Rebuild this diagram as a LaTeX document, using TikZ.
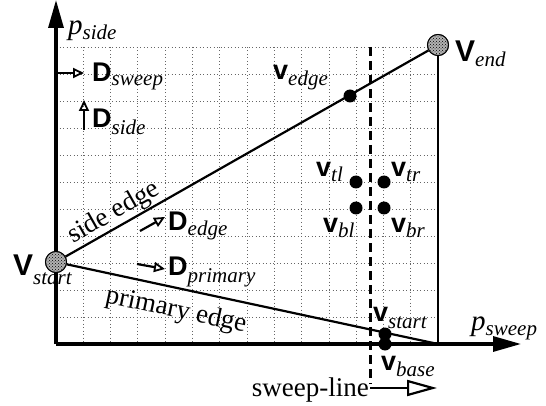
\documentclass[tikz,border=0pt]{standalone}
\usepackage{fontspec}
\setmainfont{Liberation Serif}
\newfontfamily\hvb{Liberation Sans}
\usetikzlibrary{arrows.meta,patterns}
\newcommand\Lab[4]{{\hvb\bfseries\fontsize{#1}{#1}\selectfont #2}\raisebox{-#4}{\fontsize{21}{21}\selectfont\itshape #3}}
\newcommand\Pl[2]{{\fontsize{29}{29}\selectfont\itshape #1\raisebox{-5pt}{\fontsize{21}{21}\selectfont #2}}}
\begin{document}
\begin{tikzpicture}[x=1pt,y=-1pt,
  gridline/.style={black!60,line width=0.8pt,dash pattern=on 1pt off 2.5pt},
  axis/.style={line width=3.2pt,-{Triangle[length=28pt,width=15pt]}},
  edgeline/.style={line width=2.2pt},
  bigdot/.style={circle,draw=black,line width=1pt,fill=gray!60,minimum size=21pt,inner sep=0pt},
  dot/.style={circle,fill=black,minimum size=13pt,inner sep=0pt},
  dirarrow/.style={line width=2.2pt,-{Triangle[open,length=11pt,width=10pt,line width=1.8pt]}},
  lbl/.style={inner sep=0pt,anchor=base west},
  plain/.style={font=\fontsize{27}{27}\selectfont,inner sep=0pt}]
\useasboundingbox (0,0) rectangle (546,406);
% grid
\foreach \k in {1,...,13} \draw[gridline] ({56+27.29*\k},47) -- ({56+27.29*\k},344);
\foreach \k in {1,...,11} \draw[gridline] (56,{344-27*\k}) -- (438,{344-27*\k});
% coordinates
\coordinate (O) at (56,344);
\coordinate (yend) at (56,0);
\coordinate (xend) at (521,344);
\coordinate (pend) at (438,344);
\coordinate (swtop) at (370,47);
\coordinate (swbot) at (370,384);
\coordinate (swa) at (370,388);
\coordinate (swb) at (437,388);
% vertices
\node[bigdot] (vstart) at (56,262) {};
\node[bigdot] (vend) at (438,45) {};
% lines
\draw[line width=1.8pt] (vend) -- (pend);
\draw[edgeline] (vstart) -- (vend);
\draw[edgeline] (vstart) -- (pend);
\draw[line width=3pt,dash pattern=on 9pt off 5pt] (swtop) -- (swbot);
\draw[axis] (O) -- (xend);
\draw[axis] (O) -- (yend);
\node[bigdot] at (vstart) {};
\node[bigdot] at (vend) {};
\fill[pattern=crosshatch dots,pattern color=black] (vstart) circle (9.5pt);
\fill[pattern=crosshatch dots,pattern color=black] (vend) circle (9.5pt);
% dots
\node[dot] (vedge) at (350,96) {};
\node[dot] (vtl) at (356,182) {};
\node[dot] (vtr) at (384,182) {};
\node[dot] (vbl) at (356,208) {};
\node[dot] (vbr) at (384,208) {};
\node[dot] (vbase) at (385,344) {};
\node[dot] (vst2) at (385,334) {};
% direction arrows
\coordinate (ds1) at (57,73);  \coordinate (ds2) at (84,73);
\coordinate (dd1) at (84,130); \coordinate (dd2) at (84,100);
\coordinate (de1) at (140,231); \coordinate (de2) at (165,217);
\coordinate (dp1) at (137,264); \coordinate (dp2) at (165,269);
\draw[dirarrow] (ds1) -- (ds2);
\draw[dirarrow] (dd1) -- (dd2);
\draw[dirarrow] (de1) -- (de2);
\draw[dirarrow] (dp1) -- (dp2);
% sweep-line arrow
\draw[line width=2.4pt,-{Triangle[open,length=30pt,width=16pt,line width=2.2pt]}] (swa) -- (swb);
% labels
\node[lbl] (pside) at (68,35) {\Pl{p}{side}};
\node[lbl] (psweep) at (471,330) {\Pl{p}{sweep}};
\node[lbl] (Dsweep) at (92,82) {\Lab{27}{D}{sweep}{4pt}};
\node[lbl] (Dside) at (92,128) {\Lab{27}{D}{side}{7pt}};
\node[lbl] (Dedge) at (168,230) {\Lab{27}{D}{edge}{5pt}};
\node[lbl] (Dprim) at (168,275) {\Lab{27}{D}{primary}{7pt}};
\node[lbl] (Lend) at (455,62) {\Lab{30}{V}{end}{5pt}};
\node[lbl] (Lstart) at (13,275) {\Lab{30}{V}{start}{9pt}};
\node[lbl] (Ledge) at (273,80) {\Lab{27}{v}{edge}{6pt}};
\node[lbl] (Ltl) at (316,177) {\Lab{27}{v}{tl}{5pt}};
\node[lbl] (Ltr) at (391,177) {\Lab{27}{v}{tr}{5pt}};
\node[lbl] (Lbl) at (323,233) {\Lab{27}{v}{bl}{5pt}};
\node[lbl] (Lbr) at (391,233) {\Lab{27}{v}{br}{5pt}};
\node[lbl] (Lst2) at (373,321) {\Lab{27}{v}{start}{7pt}};
\node[lbl] (Lbase) at (381,370) {\Lab{27}{v}{base}{6pt}};
\node[plain,rotate=29.6] (sidelbl) at (114,213) {side edge};
\node[plain,rotate=-12.1] (primlbl) at (176,311) {primary edge};
\node[plain,anchor=base east] (swlbl) at (369,396) {sweep-line};
\end{tikzpicture}
\end{document}
